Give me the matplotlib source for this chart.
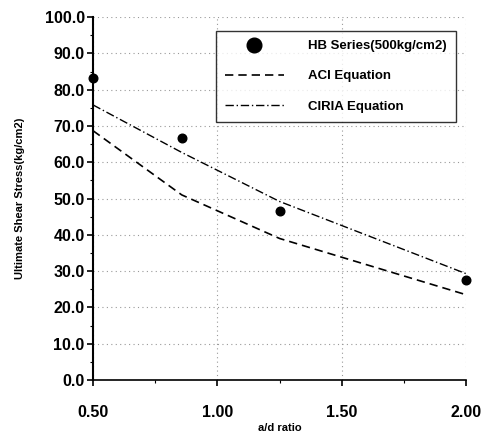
# Ultimate shear stress vs a/d ratio
import numpy as np
import matplotlib.pyplot as plt
from matplotlib.ticker import MultipleLocator

plt.rcParams['font.family'] = ['Liberation Sans', 'DejaVu Sans']
plt.rcParams['font.weight'] = 'bold'

# data
ad_ratio = [0.5, 0.857, 1.25, 2.0]
hb_series = [83.3, 66.7, 46.6, 27.5]
aci_eq = [68.7, 51.0, 39.0, 23.5]
ciria_eq = [75.8, 62.7, 49.2, 29.3]

fig = plt.figure(figsize=(4.83, 4.38), dpi=100)
ax = fig.add_axes([0.1925, 0.1324, 0.7725, 0.8286])

ax.plot(ad_ratio, hb_series, 'o', color='black', markersize=6.2, label='HB Series(500kg/cm2)', clip_on=False, zorder=5)
ax.plot(ad_ratio, aci_eq, color='black', lw=1.2, dashes=(5, 3), label='ACI Equation')
ax.plot(ad_ratio, ciria_eq, color='black', lw=1.0, dashes=(6, 2, 1, 2), label='CIRIA Equation')

ax.set_xlim(0.5, 2.0)
ax.set_ylim(0, 100)
ax.xaxis.set_major_locator(MultipleLocator(0.5))
ax.xaxis.set_minor_locator(MultipleLocator(0.25))
ax.yaxis.set_major_locator(MultipleLocator(10))
ax.yaxis.set_minor_locator(MultipleLocator(5))
ax.xaxis.set_major_formatter(lambda v, p: f'{v:.2f}')
ax.yaxis.set_major_formatter(lambda v, p: f'{v:.1f}')

ax.grid(True, which='major', color='#999999', linestyle=(0, (1, 3)), lw=0.8)
for s in ['top', 'right']:
    ax.spines[s].set_visible(False)
ax.spines['left'].set_linewidth(1.5)
ax.spines['bottom'].set_linewidth(1.2)

ax.tick_params(axis='both', which='major', labelsize=11.5, length=4, width=1.2)
ax.tick_params(axis='both', which='minor', length=2, width=0.8)
ax.tick_params(axis='x', pad=14)
ax.tick_params(axis='y', pad=2)

ax.set_xlabel('a/d ratio', fontsize=8, fontweight='bold', labelpad=2)
ax.set_ylabel('Ultimate Shear Stress(kg/cm2)', fontsize=8, fontweight='bold', labelpad=14)

leg = ax.legend(loc='upper right', bbox_to_anchor=(0.99, 0.98), fontsize=9.5, frameon=True,
                fancybox=False, edgecolor='black', handlelength=4.5, labelspacing=1.35,
                borderpad=0.7, handletextpad=1.8, markerscale=1.7)
leg.get_frame().set_linewidth(1.0)
for t in leg.get_texts():
    t.set_fontweight('bold')

plt.savefig('out.png', dpi=100)
